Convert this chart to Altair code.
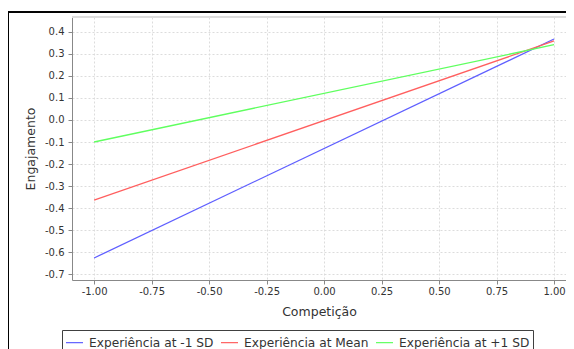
import altair as alt
import pandas as pd

competicao = [-1.0, 1.0]
series_names = ["Experiência at -1 SD", "Experiência at Mean", "Experiência at +1 SD"]
exp_minus_1sd = [-0.627, 0.368]
exp_mean = [-0.364, 0.359]
exp_plus_1sd = [-0.100, 0.342]
series_colors = ["#5f5fff", "#ff5f5f", "#5fff5f"]

x_ticks = [-1.0, -0.75, -0.5, -0.25, 0.0, 0.25, 0.5, 0.75, 1.0]
y_ticks = [-0.7, -0.6, -0.5, -0.4, -0.3, -0.2, -0.1, 0.0, 0.1, 0.2, 0.3, 0.4]

rows = []
for name, vals in zip(series_names, [exp_minus_1sd, exp_mean, exp_plus_1sd]):
    for xv, yv in zip(competicao, vals):
        rows.append({"serie": name, "Competição": xv, "Engajamento": yv})
df = pd.DataFrame(rows)

FONT = "DejaVu Sans"

lines = alt.Chart(df).mark_line(strokeWidth=1.3).encode(
    x=alt.X("Competição:Q",
            scale=alt.Scale(domain=[-1.096, 1.052], nice=False, zero=False),
            axis=alt.Axis(values=x_ticks, format=".2f",
                          labelExpr="replace(format(datum.value, '.2f'), '\u2212', '-')",
                          title="Competição", titlePadding=9, labelPadding=2)),
    y=alt.Y("Engajamento:Q",
            scale=alt.Scale(domain=[-0.727, 0.468], nice=False, zero=False),
            axis=alt.Axis(values=y_ticks, format=".1f",
                          labelExpr="replace(format(datum.value, '.1f'), '\u2212', '-')",
                          title="Engajamento", titlePadding=7, labelPadding=4)),
    color=alt.Color("serie:N",
                    scale=alt.Scale(domain=series_names, range=series_colors),
                    sort=series_names,
                    legend=alt.Legend(title=None, orient="none", legendX=-10, legendY=313,
                                      direction="horizontal", symbolType="stroke",
                                      symbolSize=289, symbolStrokeWidth=1.2,
                                      labelOffset=5, columnPadding=4, padding=3,
                                      strokeColor="#404040", fillColor="white",
                                      labelFont=FONT, labelFontSize=12.2, labelColor="#333333")),
)

frame_left = alt.Chart(df).mark_rule(color="black", strokeWidth=1).encode(
    x=alt.value(-63.5), y=alt.value(-5), y2=alt.value(400))
frame_top = alt.Chart(df).mark_rule(color="black", strokeWidth=1).encode(
    x=alt.value(-64), x2=alt.value(600), y=alt.value(-5))
plot_top = alt.Chart(df).mark_rule(color="#dddddd", strokeWidth=1).encode(
    x=alt.value(0), x2=alt.value(600), y=alt.value(0))

chart = alt.layer(frame_left, frame_top, plot_top, lines).properties(
    width=494, height=263,
    autosize=alt.AutoSizeParams(type="none"),
    padding={"left": 64, "top": 9, "right": 0, "bottom": 75},
    background="white",
).configure_view(stroke=None).configure_axis(
    labelFont=FONT, labelFontSize=10, labelColor="#333333",
    titleFont=FONT, titleFontSize=12.5, titleColor="#333333", titleFontWeight="normal",
    domainColor="#888888", tickColor="#888888", tickSize=4,
    gridColor="#dcdcdc", gridDash=[2, 2], gridWidth=1,
)

chart.save("out.html", embed_options={"renderer": "svg", "actions": False})
